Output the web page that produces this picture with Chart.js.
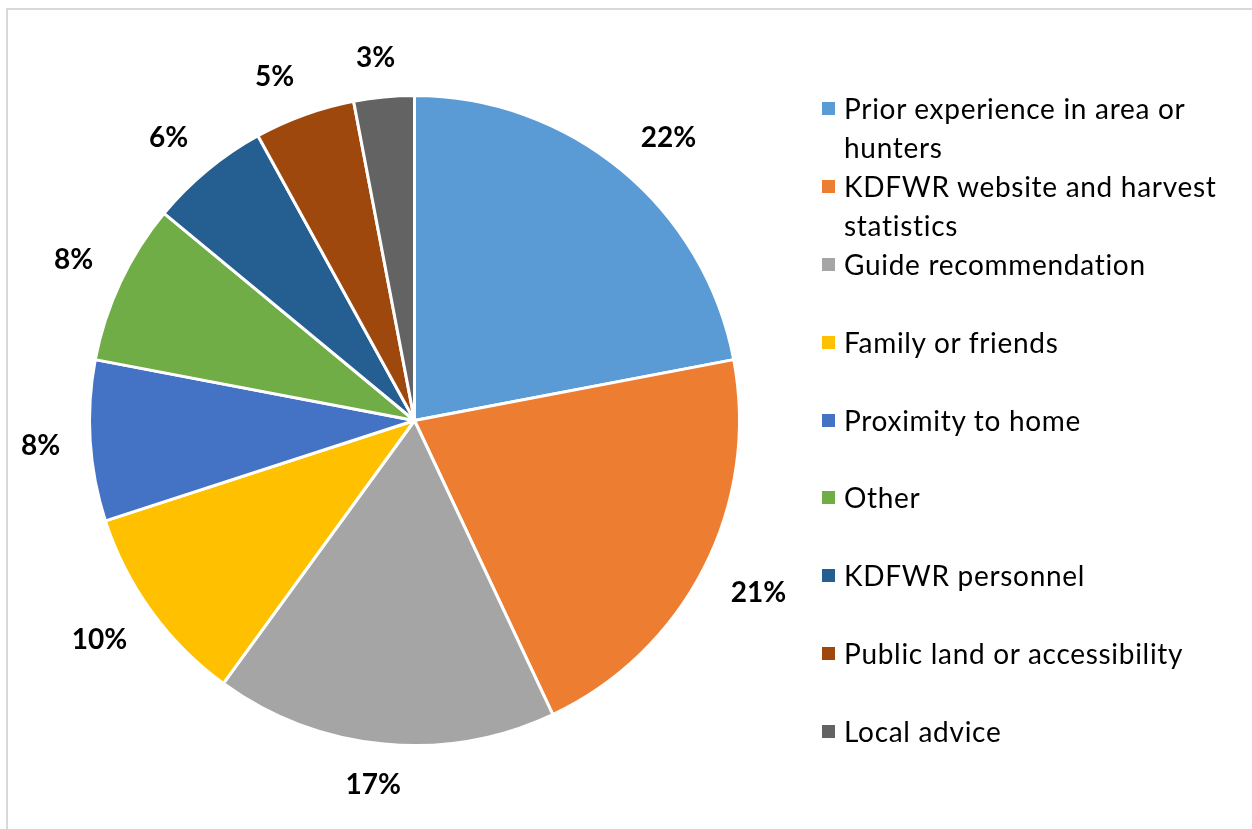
<!DOCTYPE html>
<html>
<head>
<meta charset="utf-8">
<script src="https://cdn.jsdelivr.net/npm/chart.js@4"></script>
<style>
  body { margin: 0; background: #fff; width: 1252px; height: 829px; overflow: hidden; position: relative; font-family: Lato, sans-serif; }
  #frame { position: absolute; left: 6px; top: 8px; width: 1300px; height: 900px; border-top: 2px solid #d9d9d9; border-left: 2px solid #d9d9d9; }
  #chartBox { position: absolute; left: 0; top: 0; width: 830px; height: 829px; }
  #legend { position: absolute; left: 822px; top: 0; }
  .item { position: absolute; left: 0; width: 430px; }
  .swatch { position: absolute; left: 0; width: 13px; height: 13px; }
  .text { position: absolute; left: 22px; font-size: 28px; letter-spacing: 0.7px; line-height: 39px; color: #000; white-space: nowrap; }
</style>
</head>
<body>
<div id="frame"></div>
<div id="chartBox"><canvas id="pieChart"></canvas></div>
<div id="legend"></div>
<script>
const labels = ['Prior experience in area or hunters', 'KDFWR website and harvest statistics', 'Guide recommendation', 'Family or friends', 'Proximity to home', 'Other', 'KDFWR personnel', 'Public land or accessibility', 'Local advice'];
const legendLines = [['Prior experience in area or', 'hunters'], ['KDFWR website and harvest', 'statistics'], ['Guide recommendation'], ['Family or friends'], ['Proximity to home'], ['Other'], ['KDFWR personnel'], ['Public land or accessibility'], ['Local advice']];
const values = [22, 21, 17, 10, 8, 8, 6, 5, 3];
const colors = ['#5B9BD5', '#ED7D31', '#A5A5A5', '#FFC000', '#4472C4', '#70AD47', '#255E91', '#9E480E', '#636363'];

// percentage labels outside each slice; the box hangs off a point just past the edge
const outsideLabels = {
    id: 'outsideLabels',
    afterDatasetsDraw(chart) {
        const ctx = chart.ctx;
        const meta = chart.getDatasetMeta(0);
        const total = values.reduce((a, b) => a + b, 0);
        const clamp = v => Math.max(-1, Math.min(1, v));
        ctx.save();
        ctx.font = 'bold 28px Lato, sans-serif';
        ctx.fillStyle = '#000';
        ctx.textAlign = 'center';
        ctx.textBaseline = 'alphabetic';
        meta.data.forEach((arc, i) => {
            const txt = Math.round(values[i] / total * 100) + '%';
            const hw = ctx.measureText(txt).width / 2;
            const hh = 10;
            const mid = (arc.startAngle + arc.endAngle) / 2;
            const dx = Math.cos(mid), dy = Math.sin(mid);
            const d = arc.outerRadius + 30;
            const x = arc.x + dx * d + hw * clamp(dx * 3);
            const y = arc.y + dy * d + hh * clamp(dy * 3);
            ctx.fillText(txt, x, y + 10);
        });
        ctx.restore();
    }
};

new Chart(document.getElementById('pieChart').getContext('2d'), {
    type: 'pie',
    data: { labels: labels, datasets: [{ data: values, backgroundColor: colors, borderColor: '#fff', borderWidth: 3 }] },
    options: {
        responsive: true,
        maintainAspectRatio: false,
        animation: false,
        layout: { padding: { left: 88, top: 94, right: 89, bottom: 82 } },
        plugins: { legend: { display: false }, tooltip: { enabled: false } }
    },
    plugins: [outsideLabels]
});

// legend built from the same arrays
const legendEl = document.getElementById('legend');
legendLines.forEach((lines, i) => {
    const top = 108 + i * 78 - (i >= 5 ? 1 : 0);
    const item = document.createElement('div');
    item.className = 'item';
    item.style.top = (top - 19.5) + 'px';
    const sw = document.createElement('div');
    sw.className = 'swatch';
    sw.style.top = '13px';
    sw.style.background = colors[i];
    const tx = document.createElement('div');
    tx.className = 'text';
    tx.innerHTML = lines.join('<br>');
    item.appendChild(sw);
    item.appendChild(tx);
    legendEl.appendChild(item);
});
</script>
</body>
</html>
